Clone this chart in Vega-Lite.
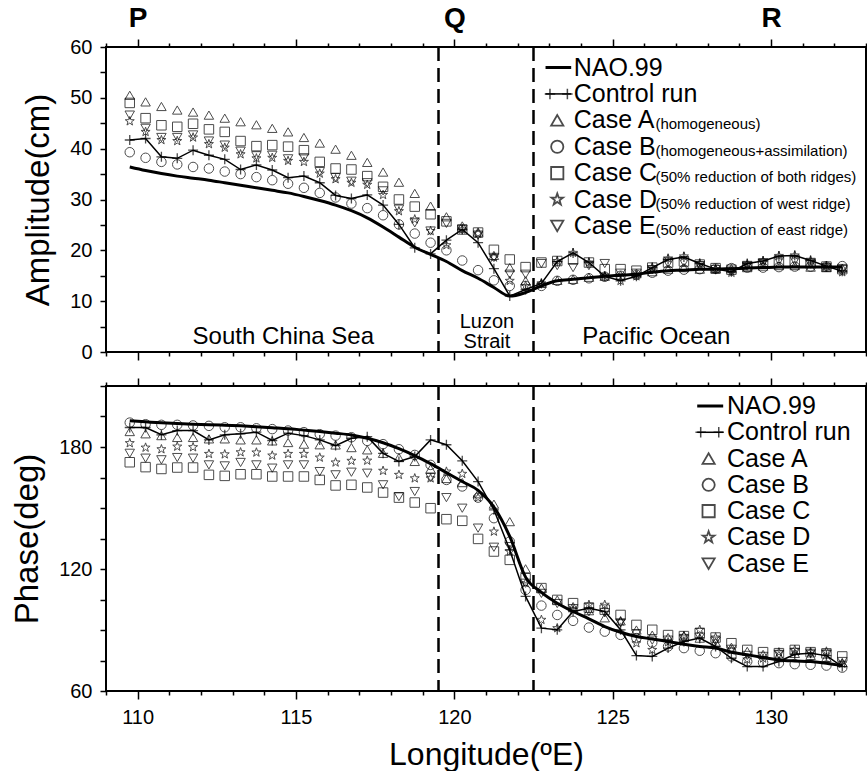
{
"$schema": "https://vega.github.io/schema/vega-lite/v6.json",
"background": "white",
"padding": {"left": 10, "top": 3, "right": 2, "bottom": 0},
"bounds": "flush",
"spacing": 34,
"config": {
 "view": {"stroke": "black", "strokeWidth": 2},
 "font": "Liberation Sans",
 "axis": {"domain": false, "grid": false, "tickColor": "black", "tickWidth": 1.5, "labelColor": "black", "titleColor": "black", "labelFontSize": 20, "labelFont": "Liberation Sans", "titleFont": "Liberation Sans", "titleFontWeight": "normal", "labelOverlap": false, "labelFlush": false, "labelBound": false},
 "text": {"font": "Liberation Sans", "color": "black"}
},
"datasets": {
 "bounds": [{"lon": 119.5}, {"lon": 122.5}],
 "legTop": [
  {"series":"NAO","label":"NAO.99","note":""},
  {"series":"Ctrl","label":"Control run","note":""},
  {"series":"A","label":"Case A","note":"(homogeneous)"},
  {"series":"B","label":"Case B","note":"(homogeneous+assimilation)"},
  {"series":"C","label":"Case C","note":"(50% reduction of both ridges)"},
  {"series":"D","label":"Case D","note":"(50% reduction of west ridge)"},
  {"series":"E","label":"Case E","note":"(50% reduction of east ridge)"}
 ],
 "legBot": [
  {"series":"NAO","label":"NAO.99"},
  {"series":"Ctrl","label":"Control run"},
  {"series":"A","label":"Case A"},
  {"series":"B","label":"Case B"},
  {"series":"C","label":"Case C"},
  {"series":"D","label":"Case D"},
  {"series":"E","label":"Case E"}
 ],
 "amp": [
{"series":"NAO","lon":109.75,"val":36.4},{"series":"NAO","lon":110.25,"val":35.7},{"series":"NAO","lon":110.75,"val":35.1},{"series":"NAO","lon":111.25,"val":34.6},{"series":"NAO","lon":111.75,"val":34.2},{"series":"NAO","lon":112.25,"val":33.8},{"series":"NAO","lon":112.75,"val":33.3},{"series":"NAO","lon":113.25,"val":32.8},{"series":"NAO","lon":113.75,"val":32.3},{"series":"NAO","lon":114.25,"val":31.8},{"series":"NAO","lon":114.75,"val":31.3},{"series":"NAO","lon":115.25,"val":30.6},{"series":"NAO","lon":115.75,"val":29.8},{"series":"NAO","lon":116.25,"val":28.9},{"series":"NAO","lon":116.75,"val":27.8},{"series":"NAO","lon":117.25,"val":26.4},{"series":"NAO","lon":117.75,"val":24.6},{"series":"NAO","lon":118.25,"val":22.6},{"series":"NAO","lon":118.75,"val":20.6},{"series":"NAO","lon":119.25,"val":19.2},{"series":"NAO","lon":119.75,"val":17.8},{"series":"NAO","lon":120.25,"val":16.0},{"series":"NAO","lon":120.75,"val":14.5},{"series":"NAO","lon":121.25,"val":12.7},{"series":"NAO","lon":121.75,"val":11.0},{"series":"NAO","lon":122.25,"val":11.7},{"series":"NAO","lon":122.75,"val":13.0},{"series":"NAO","lon":123.25,"val":14.0},{"series":"NAO","lon":123.75,"val":14.3},{"series":"NAO","lon":124.25,"val":14.6},{"series":"NAO","lon":124.75,"val":14.9},{"series":"NAO","lon":125.25,"val":15.1},{"series":"NAO","lon":125.75,"val":15.3},{"series":"NAO","lon":126.25,"val":15.7},{"series":"NAO","lon":126.75,"val":16.0},{"series":"NAO","lon":127.25,"val":16.1},{"series":"NAO","lon":127.75,"val":16.3},{"series":"NAO","lon":128.25,"val":16.3},{"series":"NAO","lon":128.75,"val":16.4},{"series":"NAO","lon":129.25,"val":16.5},{"series":"NAO","lon":129.75,"val":16.6},{"series":"NAO","lon":130.25,"val":16.7},{"series":"NAO","lon":130.75,"val":16.7},{"series":"NAO","lon":131.25,"val":16.7},{"series":"NAO","lon":131.75,"val":16.7},{"series":"NAO","lon":132.25,"val":16.7},
{"series":"Ctrl","lon":109.75,"val":41.7},{"series":"Ctrl","lon":110.25,"val":42.0},{"series":"Ctrl","lon":110.75,"val":38.4},{"series":"Ctrl","lon":111.25,"val":38.1},{"series":"Ctrl","lon":111.75,"val":39.7},{"series":"Ctrl","lon":112.25,"val":38.7},{"series":"Ctrl","lon":112.75,"val":37.9},{"series":"Ctrl","lon":113.25,"val":35.9},{"series":"Ctrl","lon":113.75,"val":36.8},{"series":"Ctrl","lon":114.25,"val":35.8},{"series":"Ctrl","lon":114.75,"val":34.3},{"series":"Ctrl","lon":115.25,"val":34.6},{"series":"Ctrl","lon":115.75,"val":33.3},{"series":"Ctrl","lon":116.25,"val":30.8},{"series":"Ctrl","lon":116.75,"val":30.2},{"series":"Ctrl","lon":117.25,"val":30.9},{"series":"Ctrl","lon":117.75,"val":28.9},{"series":"Ctrl","lon":118.25,"val":25.1},{"series":"Ctrl","lon":118.75,"val":20.5},{"series":"Ctrl","lon":119.25,"val":19.3},{"series":"Ctrl","lon":119.75,"val":22.0},{"series":"Ctrl","lon":120.25,"val":24.1},{"series":"Ctrl","lon":120.75,"val":21.5},{"series":"Ctrl","lon":121.25,"val":16.4},{"series":"Ctrl","lon":121.75,"val":11.0},{"series":"Ctrl","lon":122.25,"val":12.3},{"series":"Ctrl","lon":122.75,"val":13.5},{"series":"Ctrl","lon":123.25,"val":17.8},{"series":"Ctrl","lon":123.75,"val":19.5},{"series":"Ctrl","lon":124.25,"val":17.6},{"series":"Ctrl","lon":124.75,"val":14.9},{"series":"Ctrl","lon":125.25,"val":14.0},{"series":"Ctrl","lon":125.75,"val":14.9},{"series":"Ctrl","lon":126.25,"val":16.6},{"series":"Ctrl","lon":126.75,"val":18.2},{"series":"Ctrl","lon":127.25,"val":18.7},{"series":"Ctrl","lon":127.75,"val":17.4},{"series":"Ctrl","lon":128.25,"val":16.3},{"series":"Ctrl","lon":128.75,"val":15.8},{"series":"Ctrl","lon":129.25,"val":17.4},{"series":"Ctrl","lon":129.75,"val":17.9},{"series":"Ctrl","lon":130.25,"val":18.9},{"series":"Ctrl","lon":130.75,"val":19.0},{"series":"Ctrl","lon":131.25,"val":18.0},{"series":"Ctrl","lon":131.75,"val":16.9},{"series":"Ctrl","lon":132.25,"val":15.9},
{"series":"A","lon":109.75,"val":50.5},{"series":"A","lon":110.25,"val":49.2},{"series":"A","lon":110.75,"val":48.3},{"series":"A","lon":111.25,"val":47.6},{"series":"A","lon":111.75,"val":47.2},{"series":"A","lon":112.25,"val":46.6},{"series":"A","lon":112.75,"val":46.0},{"series":"A","lon":113.25,"val":45.3},{"series":"A","lon":113.75,"val":44.7},{"series":"A","lon":114.25,"val":44.0},{"series":"A","lon":114.75,"val":43.3},{"series":"A","lon":115.25,"val":42.2},{"series":"A","lon":115.75,"val":41.1},{"series":"A","lon":116.25,"val":39.9},{"series":"A","lon":116.75,"val":38.7},{"series":"A","lon":117.25,"val":37.3},{"series":"A","lon":117.75,"val":35.4},{"series":"A","lon":118.25,"val":33.4},{"series":"A","lon":118.75,"val":31.2},{"series":"A","lon":119.25,"val":28.7},{"series":"A","lon":119.75,"val":26.6},{"series":"A","lon":120.25,"val":24.8},{"series":"A","lon":120.75,"val":23.6},{"series":"A","lon":121.25,"val":19.0},{"series":"A","lon":121.75,"val":16.6},{"series":"A","lon":122.25,"val":14.0},{"series":"A","lon":122.75,"val":13.5},{"series":"A","lon":123.25,"val":14.1},{"series":"A","lon":123.75,"val":14.3},{"series":"A","lon":124.25,"val":14.7},{"series":"A","lon":124.75,"val":14.9},{"series":"A","lon":125.25,"val":15.1},{"series":"A","lon":125.75,"val":15.4},{"series":"A","lon":126.25,"val":15.8},{"series":"A","lon":126.75,"val":16.3},{"series":"A","lon":127.25,"val":16.6},{"series":"A","lon":127.75,"val":16.3},{"series":"A","lon":128.25,"val":16.3},{"series":"A","lon":128.75,"val":16.4},{"series":"A","lon":129.25,"val":16.6},{"series":"A","lon":129.75,"val":16.9},{"series":"A","lon":130.25,"val":17.0},{"series":"A","lon":130.75,"val":17.0},{"series":"A","lon":131.25,"val":16.7},{"series":"A","lon":131.75,"val":16.6},{"series":"A","lon":132.25,"val":16.5},
{"series":"B","lon":109.75,"val":39.3},{"series":"B","lon":110.25,"val":38.2},{"series":"B","lon":110.75,"val":37.4},{"series":"B","lon":111.25,"val":36.9},{"series":"B","lon":111.75,"val":36.4},{"series":"B","lon":112.25,"val":36.1},{"series":"B","lon":112.75,"val":35.5},{"series":"B","lon":113.25,"val":35.0},{"series":"B","lon":113.75,"val":34.4},{"series":"B","lon":114.25,"val":33.8},{"series":"B","lon":114.75,"val":33.1},{"series":"B","lon":115.25,"val":32.3},{"series":"B","lon":115.75,"val":31.3},{"series":"B","lon":116.25,"val":30.4},{"series":"B","lon":116.75,"val":29.2},{"series":"B","lon":117.25,"val":28.3},{"series":"B","lon":117.75,"val":26.9},{"series":"B","lon":118.25,"val":25.1},{"series":"B","lon":118.75,"val":23.3},{"series":"B","lon":119.25,"val":21.5},{"series":"B","lon":119.75,"val":20.0},{"series":"B","lon":120.25,"val":18.0},{"series":"B","lon":120.75,"val":16.1},{"series":"B","lon":121.25,"val":14.1},{"series":"B","lon":121.75,"val":13.0},{"series":"B","lon":122.25,"val":13.0},{"series":"B","lon":122.75,"val":13.0},{"series":"B","lon":123.25,"val":14.0},{"series":"B","lon":123.75,"val":14.2},{"series":"B","lon":124.25,"val":14.5},{"series":"B","lon":124.75,"val":14.8},{"series":"B","lon":125.25,"val":15.0},{"series":"B","lon":125.75,"val":15.2},{"series":"B","lon":126.25,"val":15.6},{"series":"B","lon":126.75,"val":16.0},{"series":"B","lon":127.25,"val":16.2},{"series":"B","lon":127.75,"val":16.3},{"series":"B","lon":128.25,"val":16.4},{"series":"B","lon":128.75,"val":16.5},{"series":"B","lon":129.25,"val":16.6},{"series":"B","lon":129.75,"val":16.6},{"series":"B","lon":130.25,"val":16.7},{"series":"B","lon":130.75,"val":16.8},{"series":"B","lon":131.25,"val":16.8},{"series":"B","lon":131.75,"val":16.8},{"series":"B","lon":132.25,"val":16.9},
{"series":"C","lon":109.75,"val":49.0},{"series":"C","lon":110.25,"val":46.0},{"series":"C","lon":110.75,"val":44.6},{"series":"C","lon":111.25,"val":44.3},{"series":"C","lon":111.75,"val":44.9},{"series":"C","lon":112.25,"val":43.8},{"series":"C","lon":112.75,"val":43.3},{"series":"C","lon":113.25,"val":41.5},{"series":"C","lon":113.75,"val":40.5},{"series":"C","lon":114.25,"val":40.7},{"series":"C","lon":114.75,"val":40.4},{"series":"C","lon":115.25,"val":39.7},{"series":"C","lon":115.75,"val":37.4},{"series":"C","lon":116.25,"val":36.1},{"series":"C","lon":116.75,"val":35.9},{"series":"C","lon":117.25,"val":34.6},{"series":"C","lon":117.75,"val":32.5},{"series":"C","lon":118.25,"val":30.0},{"series":"C","lon":118.75,"val":28.6},{"series":"C","lon":119.25,"val":27.1},{"series":"C","lon":119.75,"val":25.7},{"series":"C","lon":120.25,"val":24.1},{"series":"C","lon":120.75,"val":23.5},{"series":"C","lon":121.25,"val":20.1},{"series":"C","lon":121.75,"val":18.2},{"series":"C","lon":122.25,"val":16.7},{"series":"C","lon":122.75,"val":17.6},{"series":"C","lon":123.25,"val":17.9},{"series":"C","lon":123.75,"val":18.2},{"series":"C","lon":124.25,"val":17.6},{"series":"C","lon":124.75,"val":16.3},{"series":"C","lon":125.25,"val":16.3},{"series":"C","lon":125.75,"val":16.0},{"series":"C","lon":126.25,"val":16.6},{"series":"C","lon":126.75,"val":17.6},{"series":"C","lon":127.25,"val":17.8},{"series":"C","lon":127.75,"val":17.2},{"series":"C","lon":128.25,"val":16.5},{"series":"C","lon":128.75,"val":16.2},{"series":"C","lon":129.25,"val":16.9},{"series":"C","lon":129.75,"val":17.4},{"series":"C","lon":130.25,"val":17.8},{"series":"C","lon":130.75,"val":17.9},{"series":"C","lon":131.25,"val":17.5},{"series":"C","lon":131.75,"val":16.8},{"series":"C","lon":132.25,"val":16.3},
{"series":"D","lon":109.75,"val":45.4},{"series":"D","lon":110.25,"val":43.3},{"series":"D","lon":110.75,"val":41.7},{"series":"D","lon":111.25,"val":41.5},{"series":"D","lon":111.75,"val":42.2},{"series":"D","lon":112.25,"val":40.9},{"series":"D","lon":112.75,"val":40.2},{"series":"D","lon":113.25,"val":38.9},{"series":"D","lon":113.75,"val":38.1},{"series":"D","lon":114.25,"val":38.2},{"series":"D","lon":114.75,"val":37.6},{"series":"D","lon":115.25,"val":37.4},{"series":"D","lon":115.75,"val":35.1},{"series":"D","lon":116.25,"val":34.0},{"series":"D","lon":116.75,"val":33.3},{"series":"D","lon":117.25,"val":32.9},{"series":"D","lon":117.75,"val":30.9},{"series":"D","lon":118.25,"val":27.7},{"series":"D","lon":118.75,"val":26.1},{"series":"D","lon":119.25,"val":23.8},{"series":"D","lon":119.75,"val":21.0},{"series":"D","lon":120.25,"val":24.1},{"series":"D","lon":120.75,"val":23.3},{"series":"D","lon":121.25,"val":18.6},{"series":"D","lon":121.75,"val":14.0},{"series":"D","lon":122.25,"val":13.0},{"series":"D","lon":122.75,"val":13.5},{"series":"D","lon":123.25,"val":17.9},{"series":"D","lon":123.75,"val":19.5},{"series":"D","lon":124.25,"val":17.6},{"series":"D","lon":124.75,"val":14.9},{"series":"D","lon":125.25,"val":14.0},{"series":"D","lon":125.75,"val":14.9},{"series":"D","lon":126.25,"val":16.6},{"series":"D","lon":126.75,"val":18.4},{"series":"D","lon":127.25,"val":18.8},{"series":"D","lon":127.75,"val":17.4},{"series":"D","lon":128.25,"val":16.3},{"series":"D","lon":128.75,"val":15.6},{"series":"D","lon":129.25,"val":17.3},{"series":"D","lon":129.75,"val":17.9},{"series":"D","lon":130.25,"val":18.9},{"series":"D","lon":130.75,"val":19.0},{"series":"D","lon":131.25,"val":18.0},{"series":"D","lon":131.75,"val":16.9},{"series":"D","lon":132.25,"val":15.7},
{"series":"E","lon":109.75,"val":46.6},{"series":"E","lon":110.25,"val":44.0},{"series":"E","lon":110.75,"val":42.2},{"series":"E","lon":111.25,"val":42.2},{"series":"E","lon":111.75,"val":42.7},{"series":"E","lon":112.25,"val":41.5},{"series":"E","lon":112.75,"val":40.7},{"series":"E","lon":113.25,"val":39.5},{"series":"E","lon":113.75,"val":38.6},{"series":"E","lon":114.25,"val":38.7},{"series":"E","lon":114.75,"val":38.0},{"series":"E","lon":115.25,"val":38.2},{"series":"E","lon":115.75,"val":35.5},{"series":"E","lon":116.25,"val":34.3},{"series":"E","lon":116.75,"val":33.6},{"series":"E","lon":117.25,"val":33.3},{"series":"E","lon":117.75,"val":31.7},{"series":"E","lon":118.25,"val":28.1},{"series":"E","lon":118.75,"val":25.4},{"series":"E","lon":119.25,"val":23.8},{"series":"E","lon":119.75,"val":25.3},{"series":"E","lon":120.25,"val":24.1},{"series":"E","lon":120.75,"val":23.0},{"series":"E","lon":121.25,"val":18.6},{"series":"E","lon":121.75,"val":15.3},{"series":"E","lon":122.25,"val":15.3},{"series":"E","lon":122.75,"val":17.4},{"series":"E","lon":123.25,"val":17.0},{"series":"E","lon":123.75,"val":16.6},{"series":"E","lon":124.25,"val":17.0},{"series":"E","lon":124.75,"val":17.4},{"series":"E","lon":125.25,"val":15.5},{"series":"E","lon":125.75,"val":15.5},{"series":"E","lon":126.25,"val":16.2},{"series":"E","lon":126.75,"val":17.4},{"series":"E","lon":127.25,"val":17.6},{"series":"E","lon":127.75,"val":17.0},{"series":"E","lon":128.25,"val":16.2},{"series":"E","lon":128.75,"val":15.9},{"series":"E","lon":129.25,"val":16.9},{"series":"E","lon":129.75,"val":17.5},{"series":"E","lon":130.25,"val":17.9},{"series":"E","lon":130.75,"val":17.9},{"series":"E","lon":131.25,"val":17.3},{"series":"E","lon":131.75,"val":16.6},{"series":"E","lon":132.25,"val":16.2}
 ],
 "phase": [
{"series":"NAO","lon":109.75,"val":192.9},{"series":"NAO","lon":110.25,"val":192.4},{"series":"NAO","lon":110.75,"val":191.9},{"series":"NAO","lon":111.25,"val":191.5},{"series":"NAO","lon":111.75,"val":191.2},{"series":"NAO","lon":112.25,"val":191.0},{"series":"NAO","lon":112.75,"val":190.7},{"series":"NAO","lon":113.25,"val":190.4},{"series":"NAO","lon":113.75,"val":190.0},{"series":"NAO","lon":114.25,"val":189.5},{"series":"NAO","lon":114.75,"val":189.0},{"series":"NAO","lon":115.25,"val":188.3},{"series":"NAO","lon":115.75,"val":187.6},{"series":"NAO","lon":116.25,"val":186.8},{"series":"NAO","lon":116.75,"val":185.9},{"series":"NAO","lon":117.25,"val":184.3},{"series":"NAO","lon":117.75,"val":182.1},{"series":"NAO","lon":118.25,"val":179.2},{"series":"NAO","lon":118.75,"val":175.8},{"series":"NAO","lon":119.25,"val":171.8},{"series":"NAO","lon":119.75,"val":167.4},{"series":"NAO","lon":120.25,"val":163.0},{"series":"NAO","lon":120.75,"val":158.7},{"series":"NAO","lon":121.25,"val":150.5},{"series":"NAO","lon":121.75,"val":136.0},{"series":"NAO","lon":122.25,"val":116.0},{"series":"NAO","lon":122.75,"val":108.5},{"series":"NAO","lon":123.25,"val":103.2},{"series":"NAO","lon":123.75,"val":99.1},{"series":"NAO","lon":124.25,"val":95.5},{"series":"NAO","lon":124.75,"val":91.7},{"series":"NAO","lon":125.25,"val":88.9},{"series":"NAO","lon":125.75,"val":86.8},{"series":"NAO","lon":126.25,"val":85.6},{"series":"NAO","lon":126.75,"val":84.3},{"series":"NAO","lon":127.25,"val":83.0},{"series":"NAO","lon":127.75,"val":81.9},{"series":"NAO","lon":128.25,"val":81.1},{"series":"NAO","lon":128.75,"val":79.1},{"series":"NAO","lon":129.25,"val":77.8},{"series":"NAO","lon":129.75,"val":76.5},{"series":"NAO","lon":130.25,"val":75.3},{"series":"NAO","lon":130.75,"val":74.8},{"series":"NAO","lon":131.25,"val":74.5},{"series":"NAO","lon":131.75,"val":73.7},{"series":"NAO","lon":132.25,"val":72.5},
{"series":"Ctrl","lon":109.75,"val":189.6},{"series":"Ctrl","lon":110.25,"val":189.6},{"series":"Ctrl","lon":110.75,"val":186.0},{"series":"Ctrl","lon":111.25,"val":188.1},{"series":"Ctrl","lon":111.75,"val":188.1},{"series":"Ctrl","lon":112.25,"val":183.5},{"series":"Ctrl","lon":112.75,"val":186.0},{"series":"Ctrl","lon":113.25,"val":186.5},{"series":"Ctrl","lon":113.75,"val":187.3},{"series":"Ctrl","lon":114.25,"val":183.2},{"series":"Ctrl","lon":114.75,"val":186.8},{"series":"Ctrl","lon":115.25,"val":185.6},{"series":"Ctrl","lon":115.75,"val":183.5},{"series":"Ctrl","lon":116.25,"val":180.7},{"series":"Ctrl","lon":116.75,"val":184.3},{"series":"Ctrl","lon":117.25,"val":185.1},{"series":"Ctrl","lon":117.75,"val":176.9},{"series":"Ctrl","lon":118.25,"val":172.9},{"series":"Ctrl","lon":118.75,"val":175.3},{"series":"Ctrl","lon":119.25,"val":183.5},{"series":"Ctrl","lon":119.75,"val":181.1},{"series":"Ctrl","lon":120.25,"val":173.2},{"series":"Ctrl","lon":120.75,"val":163.0},{"series":"Ctrl","lon":121.25,"val":149.1},{"series":"Ctrl","lon":121.75,"val":129.4},{"series":"Ctrl","lon":122.25,"val":106.5},{"series":"Ctrl","lon":122.75,"val":90.9},{"series":"Ctrl","lon":123.25,"val":90.1},{"series":"Ctrl","lon":123.75,"val":99.1},{"series":"Ctrl","lon":124.25,"val":100.7},{"series":"Ctrl","lon":124.75,"val":99.1},{"series":"Ctrl","lon":125.25,"val":90.1},{"series":"Ctrl","lon":125.75,"val":77.4},{"series":"Ctrl","lon":126.25,"val":77.0},{"series":"Ctrl","lon":126.75,"val":81.1},{"series":"Ctrl","lon":127.25,"val":84.3},{"series":"Ctrl","lon":127.75,"val":86.0},{"series":"Ctrl","lon":128.25,"val":81.9},{"series":"Ctrl","lon":128.75,"val":76.1},{"series":"Ctrl","lon":129.25,"val":72.0},{"series":"Ctrl","lon":129.75,"val":72.0},{"series":"Ctrl","lon":130.25,"val":74.5},{"series":"Ctrl","lon":130.75,"val":78.1},{"series":"Ctrl","lon":131.25,"val":78.6},{"series":"Ctrl","lon":131.75,"val":77.4},{"series":"Ctrl","lon":132.25,"val":72.0},
{"series":"A","lon":109.75,"val":187.6},{"series":"A","lon":110.25,"val":186.5},{"series":"A","lon":110.75,"val":185.6},{"series":"A","lon":111.25,"val":184.7},{"series":"A","lon":111.75,"val":184.7},{"series":"A","lon":112.25,"val":184.0},{"series":"A","lon":112.75,"val":184.0},{"series":"A","lon":113.25,"val":183.5},{"series":"A","lon":113.75,"val":183.5},{"series":"A","lon":114.25,"val":183.0},{"series":"A","lon":114.75,"val":182.2},{"series":"A","lon":115.25,"val":181.4},{"series":"A","lon":115.75,"val":181.1},{"series":"A","lon":116.25,"val":181.0},{"series":"A","lon":116.75,"val":179.7},{"series":"A","lon":117.25,"val":178.6},{"series":"A","lon":117.75,"val":176.9},{"series":"A","lon":118.25,"val":174.8},{"series":"A","lon":118.75,"val":172.9},{"series":"A","lon":119.25,"val":169.2},{"series":"A","lon":119.75,"val":164.5},{"series":"A","lon":120.25,"val":162.5},{"series":"A","lon":120.75,"val":157.0},{"series":"A","lon":121.25,"val":151.9},{"series":"A","lon":121.75,"val":143.3},{"series":"A","lon":122.25,"val":120.1},{"series":"A","lon":122.75,"val":110.6},{"series":"A","lon":123.25,"val":104.8},{"series":"A","lon":123.75,"val":101.5},{"series":"A","lon":124.25,"val":99.5},{"series":"A","lon":124.75,"val":96.0},{"series":"A","lon":125.25,"val":94.5},{"series":"A","lon":125.75,"val":90.0},{"series":"A","lon":126.25,"val":87.5},{"series":"A","lon":126.75,"val":86.3},{"series":"A","lon":127.25,"val":87.1},{"series":"A","lon":127.75,"val":86.0},{"series":"A","lon":128.25,"val":84.0},{"series":"A","lon":128.75,"val":81.5},{"series":"A","lon":129.25,"val":79.5},{"series":"A","lon":129.75,"val":78.0},{"series":"A","lon":130.25,"val":77.5},{"series":"A","lon":130.75,"val":78.5},{"series":"A","lon":131.25,"val":77.5},{"series":"A","lon":131.75,"val":76.5},{"series":"A","lon":132.25,"val":74.0},
{"series":"B","lon":109.75,"val":192.0},{"series":"B","lon":110.25,"val":191.2},{"series":"B","lon":110.75,"val":190.9},{"series":"B","lon":111.25,"val":190.9},{"series":"B","lon":111.75,"val":190.6},{"series":"B","lon":112.25,"val":190.4},{"series":"B","lon":112.75,"val":189.7},{"series":"B","lon":113.25,"val":189.7},{"series":"B","lon":113.75,"val":189.2},{"series":"B","lon":114.25,"val":188.8},{"series":"B","lon":114.75,"val":188.1},{"series":"B","lon":115.25,"val":187.3},{"series":"B","lon":115.75,"val":186.3},{"series":"B","lon":116.25,"val":185.6},{"series":"B","lon":116.75,"val":184.8},{"series":"B","lon":117.25,"val":183.0},{"series":"B","lon":117.75,"val":181.4},{"series":"B","lon":118.25,"val":178.9},{"series":"B","lon":118.75,"val":176.1},{"series":"B","lon":119.25,"val":171.2},{"series":"B","lon":119.75,"val":163.8},{"series":"B","lon":120.25,"val":160.6},{"series":"B","lon":120.75,"val":155.1},{"series":"B","lon":121.25,"val":145.0},{"series":"B","lon":121.75,"val":133.5},{"series":"B","lon":122.25,"val":109.7},{"series":"B","lon":122.75,"val":102.0},{"series":"B","lon":123.25,"val":97.4},{"series":"B","lon":123.75,"val":94.5},{"series":"B","lon":124.25,"val":91.2},{"series":"B","lon":124.75,"val":89.2},{"series":"B","lon":125.25,"val":87.6},{"series":"B","lon":125.75,"val":86.0},{"series":"B","lon":126.25,"val":83.8},{"series":"B","lon":126.75,"val":81.9},{"series":"B","lon":127.25,"val":81.1},{"series":"B","lon":127.75,"val":79.8},{"series":"B","lon":128.25,"val":78.6},{"series":"B","lon":128.75,"val":77.0},{"series":"B","lon":129.25,"val":74.5},{"series":"B","lon":129.75,"val":74.0},{"series":"B","lon":130.25,"val":73.7},{"series":"B","lon":130.75,"val":73.2},{"series":"B","lon":131.25,"val":72.9},{"series":"B","lon":131.75,"val":72.5},{"series":"B","lon":132.25,"val":71.5},
{"series":"C","lon":109.75,"val":172.5},{"series":"C","lon":110.25,"val":170.1},{"series":"C","lon":110.75,"val":169.2},{"series":"C","lon":111.25,"val":169.9},{"series":"C","lon":111.75,"val":169.9},{"series":"C","lon":112.25,"val":166.3},{"series":"C","lon":112.75,"val":165.8},{"series":"C","lon":113.25,"val":166.6},{"series":"C","lon":113.75,"val":166.6},{"series":"C","lon":114.25,"val":165.5},{"series":"C","lon":114.75,"val":165.5},{"series":"C","lon":115.25,"val":165.5},{"series":"C","lon":115.75,"val":163.8},{"series":"C","lon":116.25,"val":161.1},{"series":"C","lon":116.75,"val":161.4},{"series":"C","lon":117.25,"val":160.1},{"series":"C","lon":117.75,"val":157.6},{"series":"C","lon":118.25,"val":155.1},{"series":"C","lon":118.75,"val":152.7},{"series":"C","lon":119.25,"val":149.9},{"series":"C","lon":119.75,"val":144.5},{"series":"C","lon":120.25,"val":143.7},{"series":"C","lon":120.75,"val":134.8},{"series":"C","lon":121.25,"val":128.6},{"series":"C","lon":121.75,"val":124.5},{"series":"C","lon":122.25,"val":115.5},{"series":"C","lon":122.75,"val":110.6},{"series":"C","lon":123.25,"val":104.8},{"series":"C","lon":123.75,"val":103.2},{"series":"C","lon":124.25,"val":101.0},{"series":"C","lon":124.75,"val":100.0},{"series":"C","lon":125.25,"val":97.4},{"series":"C","lon":125.75,"val":92.5},{"series":"C","lon":126.25,"val":90.1},{"series":"C","lon":126.75,"val":87.5},{"series":"C","lon":127.25,"val":87.0},{"series":"C","lon":127.75,"val":88.5},{"series":"C","lon":128.25,"val":86.3},{"series":"C","lon":128.75,"val":83.5},{"series":"C","lon":129.25,"val":80.2},{"series":"C","lon":129.75,"val":79.1},{"series":"C","lon":130.25,"val":78.6},{"series":"C","lon":130.75,"val":80.2},{"series":"C","lon":131.25,"val":79.1},{"series":"C","lon":131.75,"val":78.5},{"series":"C","lon":132.25,"val":77.0},
{"series":"D","lon":109.75,"val":181.9},{"series":"D","lon":110.25,"val":179.7},{"series":"D","lon":110.75,"val":178.9},{"series":"D","lon":111.25,"val":180.2},{"series":"D","lon":111.75,"val":179.9},{"series":"D","lon":112.25,"val":176.6},{"series":"D","lon":112.75,"val":176.4},{"series":"D","lon":113.25,"val":177.4},{"series":"D","lon":113.75,"val":177.3},{"series":"D","lon":114.25,"val":175.8},{"series":"D","lon":114.75,"val":176.6},{"series":"D","lon":115.25,"val":176.6},{"series":"D","lon":115.75,"val":174.8},{"series":"D","lon":116.25,"val":172.4},{"series":"D","lon":116.75,"val":173.2},{"series":"D","lon":117.25,"val":173.3},{"series":"D","lon":117.75,"val":168.3},{"series":"D","lon":118.25,"val":166.3},{"series":"D","lon":118.75,"val":164.6},{"series":"D","lon":119.25,"val":164.6},{"series":"D","lon":119.75,"val":167.9},{"series":"D","lon":120.25,"val":166.8},{"series":"D","lon":120.75,"val":155.1},{"series":"D","lon":121.25,"val":138.4},{"series":"D","lon":121.75,"val":128.6},{"series":"D","lon":122.25,"val":113.0},{"series":"D","lon":122.75,"val":95.0},{"series":"D","lon":123.25,"val":90.9},{"series":"D","lon":123.75,"val":99.9},{"series":"D","lon":124.25,"val":102.4},{"series":"D","lon":124.75,"val":102.4},{"series":"D","lon":125.25,"val":94.2},{"series":"D","lon":125.75,"val":83.5},{"series":"D","lon":126.25,"val":80.2},{"series":"D","lon":126.75,"val":84.0},{"series":"D","lon":127.25,"val":87.1},{"series":"D","lon":127.75,"val":90.1},{"series":"D","lon":128.25,"val":86.3},{"series":"D","lon":128.75,"val":80.0},{"series":"D","lon":129.25,"val":75.5},{"series":"D","lon":129.75,"val":76.0},{"series":"D","lon":130.25,"val":79.0},{"series":"D","lon":130.75,"val":80.2},{"series":"D","lon":131.25,"val":79.1},{"series":"D","lon":131.75,"val":79.4},{"series":"D","lon":132.25,"val":73.5},
{"series":"E","lon":109.75,"val":176.9},{"series":"E","lon":110.25,"val":174.5},{"series":"E","lon":110.75,"val":173.7},{"series":"E","lon":111.25,"val":174.8},{"series":"E","lon":111.75,"val":174.5},{"series":"E","lon":112.25,"val":171.2},{"series":"E","lon":112.75,"val":170.7},{"series":"E","lon":113.25,"val":172.4},{"series":"E","lon":113.75,"val":171.2},{"series":"E","lon":114.25,"val":169.6},{"series":"E","lon":114.75,"val":171.2},{"series":"E","lon":115.25,"val":171.2},{"series":"E","lon":115.75,"val":167.9},{"series":"E","lon":116.25,"val":166.3},{"series":"E","lon":116.75,"val":167.6},{"series":"E","lon":117.25,"val":167.1},{"series":"E","lon":117.75,"val":161.4},{"series":"E","lon":118.25,"val":155.6},{"series":"E","lon":118.75,"val":158.1},{"series":"E","lon":119.25,"val":165.0},{"series":"E","lon":119.75,"val":155.1},{"series":"E","lon":120.25,"val":149.9},{"series":"E","lon":120.75,"val":140.1},{"series":"E","lon":121.25,"val":130.7},{"series":"E","lon":121.75,"val":131.0},{"series":"E","lon":122.25,"val":113.0},{"series":"E","lon":122.75,"val":108.0},{"series":"E","lon":123.25,"val":103.0},{"series":"E","lon":123.75,"val":100.5},{"series":"E","lon":124.25,"val":99.0},{"series":"E","lon":124.75,"val":98.5},{"series":"E","lon":125.25,"val":93.5},{"series":"E","lon":125.75,"val":88.0},{"series":"E","lon":126.25,"val":85.0},{"series":"E","lon":126.75,"val":85.0},{"series":"E","lon":127.25,"val":85.5},{"series":"E","lon":127.75,"val":86.5},{"series":"E","lon":128.25,"val":84.5},{"series":"E","lon":128.75,"val":80.5},{"series":"E","lon":129.25,"val":77.5},{"series":"E","lon":129.75,"val":77.0},{"series":"E","lon":130.25,"val":78.0},{"series":"E","lon":130.75,"val":79.0},{"series":"E","lon":131.25,"val":78.5},{"series":"E","lon":131.75,"val":78.0},{"series":"E","lon":132.25,"val":74.5}
 ]
},
"resolve": {"scale": {"x": "independent", "y": "independent", "shape": "independent"}},
"vconcat": [
{
 "width": 760, "height": 305,
 "resolve": {"scale": {"y": "independent"}, "axis": {"x": "independent", "y": "independent"}},
 "layer": [
  {"data": {"name": "amp"}, "transform": [{"filter": "datum.series === 'NAO'"}],
   "mark": {"type": "line", "color": "black", "strokeWidth": 3, "interpolate": "monotone"},
   "encoding": {
    "x": {"field": "lon", "type": "quantitative", "scale": {"domain": [109, 133], "nice": false, "zero": false},
     "axis": {"orient": "bottom", "values": [109,110,111,112,113,114,115,116,117,118,119,120,121,122,123,124,125,126,127,128,129,130,131,132,133], "labels": false, "title": null, "tickSize": {"condition": {"test": "datum.value % 5 === 0", "value": 8}, "value": 4}}},
    "y": {"field": "val", "type": "quantitative", "scale": {"domain": [0, 60], "nice": false, "zero": false},
     "axis": {"orient": "left", "values": [0,5,10,15,20,25,30,35,40,45,50,55,60], "labelExpr": "datum.value % 10 === 0 ? datum.label : ''", "tickSize": 6, "labelPadding": 8, "title": "Amplitude(cm)", "titleFontSize": 33, "titlePadding": 14}}
   }},
  {"data": {"name": "amp"}, "transform": [{"filter": "datum.series === 'Ctrl'"}],
   "mark": {"type": "line", "color": "black", "strokeWidth": 1.5},
   "encoding": {
    "x": {"field": "lon", "type": "quantitative", "scale": {"domain": [109, 133], "nice": false, "zero": false}, "axis": null},
    "y": {"field": "val", "type": "quantitative", "scale": {"domain": [0, 60], "nice": false, "zero": false}, "axis": null}
   }},
  {"data": {"name": "amp"}, "transform": [{"filter": "datum.series === 'Ctrl'"}],
   "mark": {"type": "point", "shape": "M-1,0L1,0M0,-1L0,1", "filled": false, "color": "black", "size": 100, "strokeWidth": 1.3},
   "encoding": {
    "x": {"field": "lon", "type": "quantitative", "scale": {"domain": [109, 133], "nice": false, "zero": false}, "axis": null},
    "y": {"field": "val", "type": "quantitative", "scale": {"domain": [0, 60], "nice": false, "zero": false}, "axis": null}
   }},
  {"data": {"name": "amp"}, "transform": [{"filter": {"field": "series", "oneOf": ["A","B","C","D","E"]}}],
   "mark": {"type": "point", "filled": false, "color": "black", "size": 90, "strokeWidth": 1},
   "encoding": {
    "x": {"field": "lon", "type": "quantitative", "scale": {"domain": [109, 133], "nice": false, "zero": false}, "axis": null},
    "y": {"field": "val", "type": "quantitative", "scale": {"domain": [0, 60], "nice": false, "zero": false}, "axis": null},
    "shape": {"field": "series", "type": "nominal", "legend": null, "scale": {"domain": ["A","B","C","D","E"], "range": ["triangle-up", "circle", "square", "M0,-1L0.235,-0.324L0.951,-0.309L0.38,0.124L0.588,0.809L0,0.4L-0.588,0.809L-0.38,0.124L-0.951,-0.309L-0.235,-0.324Z", "triangle-down"]}}
   }},
  {"data": {"name": "bounds"},
   "mark": {"type": "rule", "color": "black", "strokeWidth": 2.5, "strokeDash": [14, 7]},
   "encoding": {
    "x": {"field": "lon", "type": "quantitative", "scale": {"domain": [109, 133], "nice": false, "zero": false},
     "axis": {"orient": "top", "values": [109,110,111,112,113,114,115,116,117,118,119,120,121,122,123,124,125,126,127,128,129,130,131,132,133], "labelExpr": "datum.value === 110 ? 'P' : datum.value === 120 ? 'Q' : datum.value === 130 ? 'R' : ''", "labelFontWeight": "bold", "labelFontSize": 28, "labelPadding": 7, "title": null, "tickSize": {"condition": {"test": "datum.value % 5 === 0", "value": 8}, "value": 4}}}
   }},
  {"data": {"values": [{}]}, "mark": {"type": "text", "fontSize": 24, "align": "center", "baseline": "alphabetic"},
   "encoding": {"x": {"datum": 114.6, "type": "quantitative", "scale": {"domain": [109, 133], "nice": false, "zero": false}, "axis": null},
    "y": {"datum": 1.5, "type": "quantitative", "scale": {"domain": [0, 60], "nice": false, "zero": false}, "axis": null},
    "text": {"value": "South China Sea"}}},
  {"data": {"values": [{}]}, "mark": {"type": "text", "fontSize": 20, "align": "center", "baseline": "alphabetic"},
   "encoding": {"x": {"datum": 121.03, "type": "quantitative", "scale": {"domain": [109, 133], "nice": false, "zero": false}, "axis": null},
    "y": {"datum": 4.8, "type": "quantitative", "scale": {"domain": [0, 60], "nice": false, "zero": false}, "axis": null},
    "text": {"value": "Luzon"}}},
  {"data": {"values": [{}]}, "mark": {"type": "text", "fontSize": 20, "align": "center", "baseline": "alphabetic"},
   "encoding": {"x": {"datum": 121.03, "type": "quantitative", "scale": {"domain": [109, 133], "nice": false, "zero": false}, "axis": null},
    "y": {"datum": 0.8, "type": "quantitative", "scale": {"domain": [0, 60], "nice": false, "zero": false}, "axis": null},
    "text": {"value": "Strait"}}},
  {"data": {"values": [{}]}, "mark": {"type": "text", "fontSize": 24, "align": "center", "baseline": "alphabetic"},
   "encoding": {"x": {"datum": 126.38, "type": "quantitative", "scale": {"domain": [109, 133], "nice": false, "zero": false}, "axis": null},
    "y": {"datum": 1.5, "type": "quantitative", "scale": {"domain": [0, 60], "nice": false, "zero": false}, "axis": null},
    "text": {"value": "Pacific Ocean"}}},
  {"data": {"name": "legTop"}, "transform": [{"filter": "datum.series === 'NAO'"}],
   "mark": {"type": "rule", "color": "black", "strokeWidth": 3},
   "encoding": {"x": {"datum": 122.88, "type": "quantitative", "scale": {"domain": [109, 133], "nice": false, "zero": false}, "axis": null},
    "x2": {"datum": 123.69},
    "y": {"field": "series", "type": "nominal", "scale": {"type": "point", "domain": ["NAO","Ctrl","A","B","C","D","E","_1","_2","_3","_4"], "padding": 0.777, "align": 0.5}, "axis": null}}},
  {"data": {"name": "legTop"}, "transform": [{"filter": "datum.series === 'Ctrl'"}],
   "mark": {"type": "rule", "color": "black", "strokeWidth": 1.5},
   "encoding": {"x": {"datum": 122.88, "type": "quantitative", "scale": {"domain": [109, 133], "nice": false, "zero": false}, "axis": null},
    "x2": {"datum": 123.69},
    "y": {"field": "series", "type": "nominal", "scale": {"type": "point", "domain": ["NAO","Ctrl","A","B","C","D","E","_1","_2","_3","_4"], "padding": 0.777, "align": 0.5}, "axis": null}}},
  {"data": {"name": "legTop"}, "transform": [{"filter": "datum.series === 'Ctrl'"}],
   "mark": {"type": "point", "shape": "M-1,0L1,0M0,-1L0,1", "filled": false, "color": "black", "size": 110, "strokeWidth": 1.5},
   "encoding": {"x": {"datum": 123.02, "type": "quantitative", "scale": {"domain": [109, 133], "nice": false, "zero": false}, "axis": null},
    "y": {"field": "series", "type": "nominal", "scale": {"type": "point", "domain": ["NAO","Ctrl","A","B","C","D","E","_1","_2","_3","_4"], "padding": 0.777, "align": 0.5}, "axis": null}}},
  {"data": {"name": "legTop"}, "transform": [{"filter": "datum.series === 'Ctrl'"}],
   "mark": {"type": "point", "shape": "M-1,0L1,0M0,-1L0,1", "filled": false, "color": "black", "size": 110, "strokeWidth": 1.5},
   "encoding": {"x": {"datum": 123.57, "type": "quantitative", "scale": {"domain": [109, 133], "nice": false, "zero": false}, "axis": null},
    "y": {"field": "series", "type": "nominal", "scale": {"type": "point", "domain": ["NAO","Ctrl","A","B","C","D","E","_1","_2","_3","_4"], "padding": 0.777, "align": 0.5}, "axis": null}}},
  {"data": {"name": "legTop"}, "transform": [{"filter": {"field": "series", "oneOf": ["A","B","C","D","E"]}}],
   "mark": {"type": "point", "filled": false, "color": "black", "size": 150, "strokeWidth": 1.8},
   "encoding": {"x": {"datum": 123.25, "type": "quantitative", "scale": {"domain": [109, 133], "nice": false, "zero": false}, "axis": null},
    "y": {"field": "series", "type": "nominal", "scale": {"type": "point", "domain": ["NAO","Ctrl","A","B","C","D","E","_1","_2","_3","_4"], "padding": 0.777, "align": 0.5}, "axis": null},
    "shape": {"field": "series", "type": "nominal", "legend": null, "scale": {"domain": ["A","B","C","D","E"], "range": ["triangle-up", "circle", "square", "M0,-1L0.235,-0.324L0.951,-0.309L0.38,0.124L0.588,0.809L0,0.4L-0.588,0.809L-0.38,0.124L-0.951,-0.309L-0.235,-0.324Z", "triangle-down"]}}}},
  {"data": {"name": "legTop"},
   "mark": {"type": "text", "fontSize": 25, "align": "left", "baseline": "middle"},
   "encoding": {"x": {"datum": 123.77, "type": "quantitative", "scale": {"domain": [109, 133], "nice": false, "zero": false}, "axis": null},
    "y": {"field": "series", "type": "nominal", "scale": {"type": "point", "domain": ["NAO","Ctrl","A","B","C","D","E","_1","_2","_3","_4"], "padding": 0.777, "align": 0.5}, "axis": null},
    "text": {"field": "label"}}},
  {"data": {"name": "legTop"},
   "mark": {"type": "text", "fontSize": 15, "align": "left", "baseline": "middle", "dy": 4},
   "encoding": {"x": {"datum": 126.35, "type": "quantitative", "scale": {"domain": [109, 133], "nice": false, "zero": false}, "axis": null},
    "y": {"field": "series", "type": "nominal", "scale": {"type": "point", "domain": ["NAO","Ctrl","A","B","C","D","E","_1","_2","_3","_4"], "padding": 0.777, "align": 0.5}, "axis": null},
    "text": {"field": "note"}}}
 ]
},
{
 "width": 760, "height": 305,
 "resolve": {"scale": {"y": "independent"}, "axis": {"x": "independent", "y": "independent"}},
 "layer": [
  {"data": {"name": "phase"}, "transform": [{"filter": "datum.series === 'NAO'"}],
   "mark": {"type": "line", "color": "black", "strokeWidth": 3, "interpolate": "monotone"},
   "encoding": {
    "x": {"field": "lon", "type": "quantitative", "scale": {"domain": [109, 133], "nice": false, "zero": false},
     "axis": {"orient": "bottom", "values": [109,110,111,112,113,114,115,116,117,118,119,120,121,122,123,124,125,126,127,128,129,130,131,132,133], "labelExpr": "datum.value % 5 === 0 ? datum.label : ''", "labelPadding": 8, "title": "Longitude(ºE)", "titleFontSize": 32, "titlePadding": 12, "tickSize": {"condition": {"test": "datum.value % 5 === 0", "value": 8}, "value": 4}}},
    "y": {"field": "val", "type": "quantitative", "scale": {"domain": [60, 210], "nice": false, "zero": false},
     "axis": {"orient": "left", "values": [60,75,90,105,120,135,150,165,180,195,210], "labelExpr": "(datum.value - 60) % 60 === 0 && datum.value < 200 ? datum.label : ''", "tickSize": 6, "labelPadding": 8, "title": "Phase(deg)", "titleFontSize": 33, "titlePadding": 14}}
   }},
  {"data": {"name": "phase"}, "transform": [{"filter": "datum.series === 'Ctrl'"}],
   "mark": {"type": "line", "color": "black", "strokeWidth": 1.5},
   "encoding": {
    "x": {"field": "lon", "type": "quantitative", "scale": {"domain": [109, 133], "nice": false, "zero": false}, "axis": null},
    "y": {"field": "val", "type": "quantitative", "scale": {"domain": [60, 210], "nice": false, "zero": false}, "axis": null}
   }},
  {"data": {"name": "phase"}, "transform": [{"filter": "datum.series === 'Ctrl'"}],
   "mark": {"type": "point", "shape": "M-1,0L1,0M0,-1L0,1", "filled": false, "color": "black", "size": 100, "strokeWidth": 1.3},
   "encoding": {
    "x": {"field": "lon", "type": "quantitative", "scale": {"domain": [109, 133], "nice": false, "zero": false}, "axis": null},
    "y": {"field": "val", "type": "quantitative", "scale": {"domain": [60, 210], "nice": false, "zero": false}, "axis": null}
   }},
  {"data": {"name": "phase"}, "transform": [{"filter": {"field": "series", "oneOf": ["A","B","C","D","E"]}}],
   "mark": {"type": "point", "filled": false, "color": "black", "size": 90, "strokeWidth": 1},
   "encoding": {
    "x": {"field": "lon", "type": "quantitative", "scale": {"domain": [109, 133], "nice": false, "zero": false}, "axis": null},
    "y": {"field": "val", "type": "quantitative", "scale": {"domain": [60, 210], "nice": false, "zero": false}, "axis": null},
    "shape": {"field": "series", "type": "nominal", "legend": null, "scale": {"domain": ["A","B","C","D","E"], "range": ["triangle-up", "circle", "square", "M0,-1L0.235,-0.324L0.951,-0.309L0.38,0.124L0.588,0.809L0,0.4L-0.588,0.809L-0.38,0.124L-0.951,-0.309L-0.235,-0.324Z", "triangle-down"]}}
   }},
  {"data": {"name": "bounds"},
   "mark": {"type": "rule", "color": "black", "strokeWidth": 2.5, "strokeDash": [14, 7]},
   "encoding": {
    "x": {"field": "lon", "type": "quantitative", "scale": {"domain": [109, 133], "nice": false, "zero": false},
     "axis": {"orient": "top", "values": [109,110,111,112,113,114,115,116,117,118,119,120,121,122,123,124,125,126,127,128,129,130,131,132,133], "labels": false, "title": null, "tickSize": {"condition": {"test": "datum.value % 5 === 0", "value": 8}, "value": 4}}}
   }},
  {"data": {"name": "legBot"}, "transform": [{"filter": "datum.series === 'NAO'"}],
   "mark": {"type": "rule", "color": "black", "strokeWidth": 3},
   "encoding": {"x": {"datum": 127.67, "type": "quantitative", "scale": {"domain": [109, 133], "nice": false, "zero": false}, "axis": null},
    "x2": {"datum": 128.49},
    "y": {"field": "series", "type": "nominal", "scale": {"type": "point", "domain": ["NAO","Ctrl","A","B","C","D","E","_1","_2","_3","_4"], "padding": 0.803, "align": 0.474}, "axis": null}}},
  {"data": {"name": "legBot"}, "transform": [{"filter": "datum.series === 'Ctrl'"}],
   "mark": {"type": "rule", "color": "black", "strokeWidth": 1.5},
   "encoding": {"x": {"datum": 127.67, "type": "quantitative", "scale": {"domain": [109, 133], "nice": false, "zero": false}, "axis": null},
    "x2": {"datum": 128.49},
    "y": {"field": "series", "type": "nominal", "scale": {"type": "point", "domain": ["NAO","Ctrl","A","B","C","D","E","_1","_2","_3","_4"], "padding": 0.803, "align": 0.474}, "axis": null}}},
  {"data": {"name": "legBot"}, "transform": [{"filter": "datum.series === 'Ctrl'"}],
   "mark": {"type": "point", "shape": "M-1,0L1,0M0,-1L0,1", "filled": false, "color": "black", "size": 110, "strokeWidth": 1.5},
   "encoding": {"x": {"datum": 127.78, "type": "quantitative", "scale": {"domain": [109, 133], "nice": false, "zero": false}, "axis": null},
    "y": {"field": "series", "type": "nominal", "scale": {"type": "point", "domain": ["NAO","Ctrl","A","B","C","D","E","_1","_2","_3","_4"], "padding": 0.803, "align": 0.474}, "axis": null}}},
  {"data": {"name": "legBot"}, "transform": [{"filter": "datum.series === 'Ctrl'"}],
   "mark": {"type": "point", "shape": "M-1,0L1,0M0,-1L0,1", "filled": false, "color": "black", "size": 110, "strokeWidth": 1.5},
   "encoding": {"x": {"datum": 128.35, "type": "quantitative", "scale": {"domain": [109, 133], "nice": false, "zero": false}, "axis": null},
    "y": {"field": "series", "type": "nominal", "scale": {"type": "point", "domain": ["NAO","Ctrl","A","B","C","D","E","_1","_2","_3","_4"], "padding": 0.803, "align": 0.474}, "axis": null}}},
  {"data": {"name": "legBot"}, "transform": [{"filter": {"field": "series", "oneOf": ["A","B","C","D","E"]}}],
   "mark": {"type": "point", "filled": false, "color": "black", "size": 150, "strokeWidth": 1.8},
   "encoding": {"x": {"datum": 128.03, "type": "quantitative", "scale": {"domain": [109, 133], "nice": false, "zero": false}, "axis": null},
    "y": {"field": "series", "type": "nominal", "scale": {"type": "point", "domain": ["NAO","Ctrl","A","B","C","D","E","_1","_2","_3","_4"], "padding": 0.803, "align": 0.474}, "axis": null},
    "shape": {"field": "series", "type": "nominal", "legend": null, "scale": {"domain": ["A","B","C","D","E"], "range": ["triangle-up", "circle", "square", "M0,-1L0.235,-0.324L0.951,-0.309L0.38,0.124L0.588,0.809L0,0.4L-0.588,0.809L-0.38,0.124L-0.951,-0.309L-0.235,-0.324Z", "triangle-down"]}}}},
  {"data": {"name": "legBot"},
   "mark": {"type": "text", "fontSize": 25, "align": "left", "baseline": "middle"},
   "encoding": {"x": {"datum": 128.61, "type": "quantitative", "scale": {"domain": [109, 133], "nice": false, "zero": false}, "axis": null},
    "y": {"field": "series", "type": "nominal", "scale": {"type": "point", "domain": ["NAO","Ctrl","A","B","C","D","E","_1","_2","_3","_4"], "padding": 0.803, "align": 0.474}, "axis": null},
    "text": {"field": "label"}}}
 ]
}
]
}
